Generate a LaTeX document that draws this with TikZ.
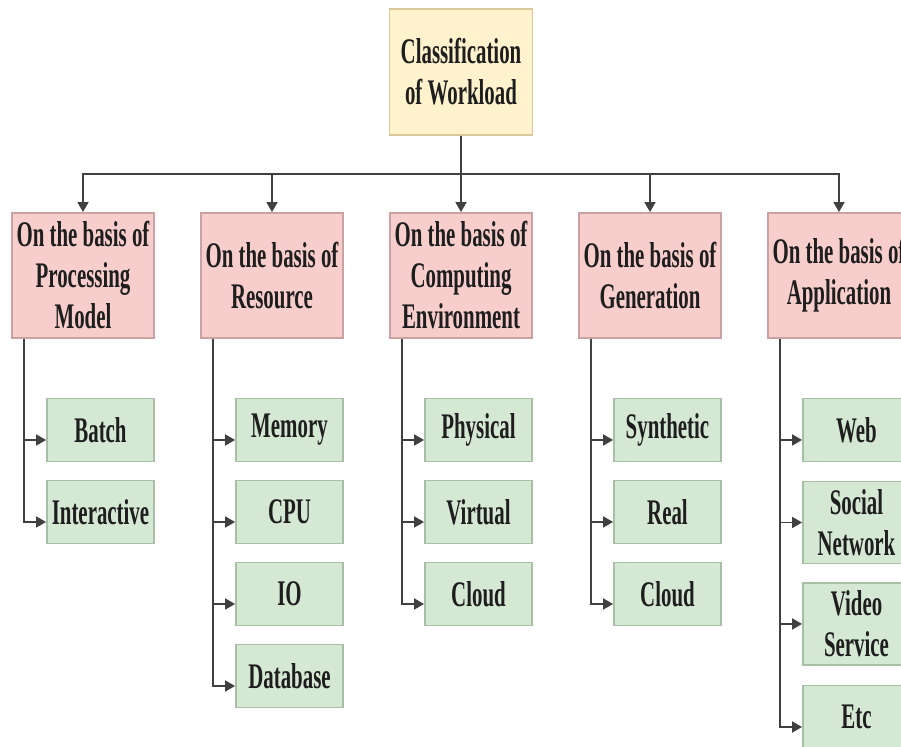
\documentclass[tikz,border=0pt]{standalone}
\usepackage{fontspec}
\setmainfont{Liberation Serif}[FakeStretch=0.58]
\usetikzlibrary{arrows.meta}

\definecolor{rootfill}{HTML}{FFF2CC}
\definecolor{rootline}{HTML}{D9C89A}
\definecolor{catfill}{HTML}{F8CECC}
\definecolor{catline}{HTML}{C9A3A3}
\definecolor{leaffill}{HTML}{D5E8D4}
\definecolor{leafline}{HTML}{A9BFA5}
\definecolor{wire}{HTML}{404040}
\definecolor{ink}{HTML}{1E1E1E}

\tikzset{
  box/.style={draw, line width=0.9pt, align=center, inner sep=0pt, text=ink,
    font=\bfseries\fontsize{18pt}{20.5pt}\selectfont},
  rootbox/.style={box, fill=rootfill, draw=rootline, minimum width=71.5pt, minimum height=63pt},
  catbox/.style={box, fill=catfill, draw=catline, minimum width=71pt, minimum height=62.5pt},
  leafbox/.style={box, fill=leaffill, draw=leafline, minimum width=53.5pt, minimum height=31.5pt},
  tallleaf/.style={leafbox, minimum height=41pt},
  conn/.style={draw=wire, line width=0.85pt, -{Triangle[length=5pt,width=5.5pt]}},
}

\begin{document}
\begin{tikzpicture}[x=0.5pt,y=-0.5pt]
  \useasboundingbox (0,0) rectangle (901,747);

  % root
  \node[rootbox] (root) at (461,72) {Classification\\of Workload};

  % categories
  \node[catbox] (c1) at (83,275.5)  {On the basis of\\Processing\\Model};
  \node[catbox] (c2) at (272,275.5) {On the basis of\\Resource};
  \node[catbox] (c3) at (461,275.5) {On the basis of\\Computing\\Environment};
  \node[catbox] (c4) at (650,275.5) {On the basis of\\Generation};
  \node[catbox] (c5) at (839,275.5) {On the basis of\\Application};

  % bus from the root to every category
  \coordinate (bus) at (461,174);
  \draw[conn] (root.south) -- (c3.north);
  \foreach \c in {c1,c2,c4,c5}
    \draw[conn] (root.south) -- (bus) -| (\c.north);

  % processing model
  \node[leafbox] (p1) at (100.5,430) {Batch};
  \node[leafbox] (p2) at (100.5,512) {Interactive};
  % resource
  \node[leafbox] (r1) at (289.5,430) {Memory};
  \node[leafbox] (r2) at (289.5,512) {CPU};
  \node[leafbox] (r3) at (289.5,594) {IO};
  \node[leafbox] (r4) at (289.5,676) {Database};
  % computing environment
  \node[leafbox] (e1) at (478.5,430) {Physical};
  \node[leafbox] (e2) at (478.5,512) {Virtual};
  \node[leafbox] (e3) at (478.5,594) {Cloud};
  % generation
  \node[leafbox] (g1) at (667.5,430) {Synthetic};
  \node[leafbox] (g2) at (667.5,512) {Real};
  \node[leafbox] (g3) at (667.5,594) {Cloud};
  % application
  \node[leafbox]  (a1) at (856.5,430)   {Web};
  \node[tallleaf] (a2) at (856.5,522.5) {Social\\Network};
  \node[tallleaf] (a3) at (856.5,624)   {Video\\Service};
  \node[leafbox]  (a4) at (856.5,717)   {Etc};

  % branch lines from each category to its items
  \foreach \c/\l in {c1/p1,c1/p2,c2/r1,c2/r2,c2/r3,c2/r4,c3/e1,c3/e2,c3/e3,c4/g1,c4/g2,c4/g3,c5/a1,c5/a4}
    \draw[conn] ([xshift=-29.5pt]\c.south) |- ([yshift=-5pt]\l.west);
  \foreach \c/\l in {c5/a2,c5/a3}
    \draw[conn] ([xshift=-29.5pt]\c.south) |- (\l.west);
\end{tikzpicture}
\end{document}
